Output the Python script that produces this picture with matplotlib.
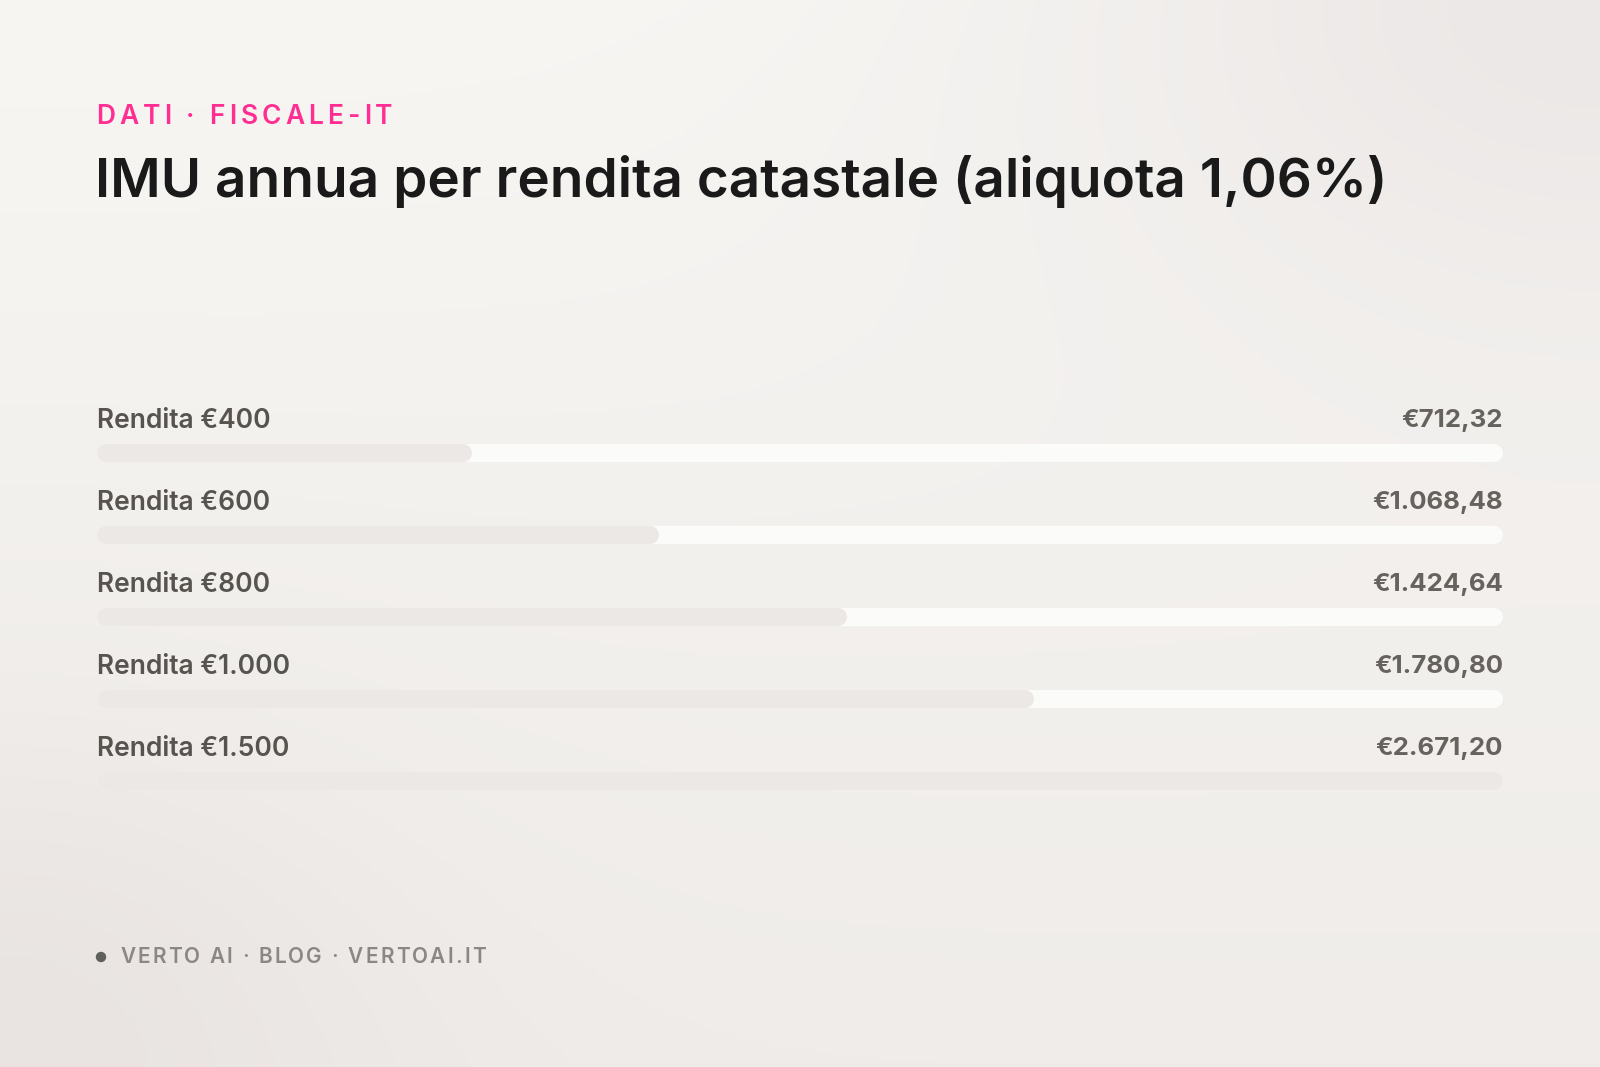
import numpy as np
import matplotlib.pyplot as plt
from matplotlib.patches import Ellipse

# data
labels = ["Rendita €400", "Rendita €600", "Rendita €800", "Rendita €1.000", "Rendita €1.500"]
values = [712.32, 1068.48, 1424.64, 1780.80, 2671.20]
value_labels = ["€712,32", "€1.068,48", "€1.424,64", "€1.780,80", "€2.671,20"]

kicker = "DATI · FISCALE-IT"
title = "IMU annua per rendita catastale (aliquota 1,06%)"
footer = "VERTO AI · BLOG · VERTOAI.IT"

W, H = 1600, 1067
plt.rcParams['font.family'] = ['Inter', 'DejaVu Sans']

fig = plt.figure(figsize=(W / 100, H / 100), dpi=100)

# soft background gradient
bg = fig.add_axes([0, 0, 1, 1])
bg.set_axis_off()
yy, xx = np.mgrid[0:1:300j, 0:1:450j]
top = np.array([247, 246, 243]) / 255
bot = np.array([239, 236, 233]) / 255
img = top * (1 - yy[..., None]) + bot * yy[..., None]
blob = np.array([236, 232, 231]) / 255
d1 = np.exp(-(((xx - 1.0) / 0.35) ** 2 + ((yy - 0.0) / 0.35) ** 2))
d2 = np.exp(-(((xx - 0.0) / 0.25) ** 2 + ((yy - 1.0) / 0.3) ** 2))
img = img * (1 - d1[..., None]) + blob * d1[..., None]
img = img * (1 - d2[..., None]) + (np.array([233, 228, 226]) / 255) * d2[..., None]
bg.imshow(img, extent=[0, 1, 0, 1], aspect='auto', origin='upper')
bg.set_xlim(0, 1)
bg.set_ylim(0, 1)


def fx(px):
    return px / W


def fy(px):
    return 1 - px / H


def spaced_text(x_px, y_px, s, spacing, **kw):
    renderer = fig.canvas.get_renderer()
    x = x_px
    for ch in s:
        t = fig.text(fx(x), fy(y_px), ch, va='center', ha='left', **kw)
        if ch == ' ':
            probe = fig.text(0, 0, 'a a', **kw)
            w1 = probe.get_window_extent(renderer).width
            probe.set_text('aa')
            w2 = probe.get_window_extent(renderer).width
            probe.remove()
            w = w1 - w2
        else:
            w = t.get_window_extent(renderer).width
        x += w + spacing


spaced_text(96, 117, kicker, 4.1, fontsize=19, color='#FF2E93', fontweight='semibold')
fig.text(fx(95), fy(181), title, fontsize=39.5, color='#1A1A1A', fontweight='semibold',
         va='center', ha='left')

# bars
left, right = 97, 1503
row0, step = 453, 82
n = len(values)
ax = fig.add_axes([fx(left), fy(row0 + step * (n - 0.5)), (right - left) / W, step * n / H])
ax.set_axis_off()
vmax = max(values)
ax.set_xlim(0, vmax)
ax.set_ylim(n - 0.5, -0.5)
r = vmax * 9 / (right - left)
lw = 18 * 72 / 100
for i, (lab, v, vl) in enumerate(zip(labels, values, value_labels)):
    ax.plot([r, vmax - r], [i, i], color='#FBFBF9', lw=lw, solid_capstyle='round', zorder=1)
    ax.plot([r, v - r], [i, i], color='#ECE8E6', lw=lw, solid_capstyle='round', zorder=2)
    ax.text(0, i - 32 / step, lab, fontsize=19, color='#575450', fontweight='semibold',
            va='center', ha='left')
    ax.text(vmax, i - 32 / step, vl, fontsize=18.6, color='#66635F', fontweight='bold',
            va='center', ha='right')

# footer
fig.patches.append(Ellipse((fx(101), fy(957)), 9 / W, 9 / H, color='#5F5F5C',
                           transform=fig.transFigure, figure=fig))
spaced_text(120, 957, footer, 2.2, fontsize=15, color='#8A8784', fontweight='semibold')

fig.savefig('out.png', dpi=100)
